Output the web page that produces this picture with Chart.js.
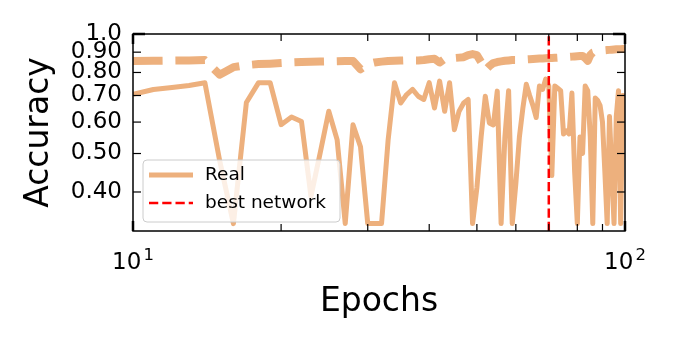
<!DOCTYPE html>
<html>
<head>
<meta charset="utf-8">
<script src="https://cdn.jsdelivr.net/npm/chart.js@4.4.0/dist/chart.umd.min.js"></script>
<style>
  html, body { margin: 0; padding: 0; background: #fff; }
</style>
</head>
<body>
<canvas id="myChart" width="675" height="350"></canvas>
<script>
// x values (epochs)
const epochs = [10, 11, 12, 13, 14, 15, 16, 17, 18, 19,
  20, 21, 22, 23, 24, 25, 26, 27, 28, 29,
  30, 31, 32, 33, 34, 35, 36, 37, 38, 39,
  40, 41, 42, 43, 44, 45, 46, 47, 48, 49,
  50, 51, 52, 53, 54, 55, 56, 57, 58, 59,
  60, 61, 62, 63, 64, 65, 66, 67, 68, 69,
  70, 71, 72, 73, 74, 75, 76, 77, 78, 79,
  80, 81, 82, 83, 84, 85, 86, 87, 88, 89,
  90, 91, 92, 93, 94, 95, 96, 97, 98, 99, 100];

// accuracy of the real network (solid line)
const realAcc = [0.705, 0.725, 0.733, 0.742, 0.754, 0.48, 0.333, 0.672, 0.754, 0.754,
  0.591, 0.618, 0.602, 0.39, 0.50, 0.639, 0.541, 0.333, 0.591, 0.52,
  0.333, 0.333, 0.333, 0.54, 0.754, 0.67, 0.704, 0.725, 0.697, 0.684,
  0.754, 0.651, 0.761, 0.639, 0.754, 0.574, 0.639, 0.67, 0.684, 0.333,
  0.41, 0.55, 0.697, 0.597, 0.59, 0.718, 0.333, 0.55, 0.72, 0.333,
  0.42, 0.55, 0.65, 0.747, 0.70, 0.66, 0.616, 0.74, 0.725, 0.77,
  0.74, 0.44, 0.74, 0.73, 0.72, 0.56, 0.57, 0.56, 0.71, 0.45,
  0.333, 0.55, 0.50, 0.74, 0.72, 0.55, 0.333, 0.69, 0.68, 0.66,
  0.60, 0.45, 0.333, 0.62, 0.45, 0.333, 0.62, 0.72, 0.333, 0.70, 0.60];

// dashed curve (no legend entry)
const dashedAcc = [0.855, 0.856, 0.857, 0.858, 0.86, 0.79, 0.825, 0.835, 0.84, 0.842,
  0.845, 0.848, 0.85, 0.851, 0.852, 0.853, 0.854, 0.855, 0.855, 0.815,
  0.84, 0.848, 0.852, 0.855, 0.856, 0.857, 0.858, 0.858, 0.858, 0.86,
  0.864, 0.866, 0.848, 0.866, 0.868, 0.87, 0.872, 0.874, 0.885, 0.89,
  0.885, 0.85, 0.81, 0.83, 0.845, 0.85, 0.853, 0.856, 0.858, 0.86,
  0.86, 0.861, 0.862, 0.863, 0.864, 0.865, 0.866, 0.867, 0.868, 0.869,
  0.87, 0.87, 0.871, 0.872, 0.873, 0.874, 0.875, 0.876, 0.877, 0.878,
  0.879, 0.88, 0.88, 0.87, 0.856, 0.885, 0.898, 0.902, 0.905, 0.907,
  0.909, 0.91, 0.911, 0.912, 0.913, 0.914, 0.915, 0.915, 0.916, 0.917, 0.918];

const bestEpoch = 70;

const yTicks = [0.4, 0.5, 0.6, 0.7, 0.8, 0.9, 1.0];
const yTickLabels = ['0.40', '0.50', '0.60', '0.70', '0.80', '0.90', '1.0'];
const xTicks = [10, 100];
const xTickBase = ['10', '10'];
const xTickExp = ['1', '2'];
const xMinorTicks = [20, 30, 40, 50, 60, 70, 80, 90];

const orange = 'rgb(237, 176, 125)';
const fontName = 'DejaVu Sans';

// red line, legend box, frame, inward ticks and 10^n labels (matplotlib look)
const decor = {
  id: 'decor',
  afterDatasetsDraw(chart) {
    const {ctx, chartArea: a, scales: {x, y}} = chart;

    // best network marker
    const bx = x.getPixelForValue(bestEpoch);
    ctx.save();
    ctx.strokeStyle = 'red';
    ctx.lineWidth = 2.5;
    ctx.setLineDash([9.25, 4]);
    ctx.beginPath();
    ctx.moveTo(bx, a.bottom);
    ctx.lineTo(bx, a.top);
    ctx.stroke();
    ctx.restore();

    // legend
    const lx = a.left + 10, ly = 160, lw = 197, lh = 62, r = 4;
    ctx.save();
    ctx.beginPath();
    ctx.moveTo(lx + r, ly);
    ctx.lineTo(lx + lw - r, ly);
    ctx.quadraticCurveTo(lx + lw, ly, lx + lw, ly + r);
    ctx.lineTo(lx + lw, ly + lh - r);
    ctx.quadraticCurveTo(lx + lw, ly + lh, lx + lw - r, ly + lh);
    ctx.lineTo(lx + r, ly + lh);
    ctx.quadraticCurveTo(lx, ly + lh, lx, ly + lh - r);
    ctx.lineTo(lx, ly + r);
    ctx.quadraticCurveTo(lx, ly, lx + r, ly);
    ctx.closePath();
    ctx.fillStyle = 'rgba(255, 255, 255, 0.8)';
    ctx.fill();
    ctx.strokeStyle = '#cccccc';
    ctx.lineWidth = 1;
    ctx.stroke();

    ctx.strokeStyle = orange;
    ctx.lineWidth = 5;
    ctx.beginPath();
    ctx.moveTo(lx + 6, ly + 15);
    ctx.lineTo(lx + 50, ly + 15);
    ctx.stroke();

    ctx.strokeStyle = 'red';
    ctx.lineWidth = 2.5;
    ctx.setLineDash([9.25, 4]);
    ctx.beginPath();
    ctx.moveTo(lx + 6, ly + 43);
    ctx.lineTo(lx + 50, ly + 43);
    ctx.stroke();
    ctx.setLineDash([]);

    ctx.fillStyle = '#000';
    ctx.font = '18.5px "' + fontName + '"';
    ctx.textBaseline = 'middle';
    ctx.fillText('Real', lx + 62, ly + 15);
    ctx.fillText('best network', lx + 62, ly + 43);

    // x tick labels as 10 with a raised exponent
    ctx.textBaseline = 'alphabetic';
    xTicks.forEach((v, i) => {
      const px = x.getPixelForValue(v);
      ctx.font = '23px "' + fontName + '"';
      const wb = ctx.measureText(xTickBase[i]).width;
      ctx.font = '16.5px "' + fontName + '"';
      const we = ctx.measureText(xTickExp[i]).width;
      const x0 = px - (wb + 2 + we) / 2;
      ctx.font = '23px "' + fontName + '"';
      ctx.fillText(xTickBase[i], x0, a.bottom + 38);
      ctx.font = '16.5px "' + fontName + '"';
      ctx.fillText(xTickExp[i], x0 + wb + 2, a.bottom + 29);
    });

    // frame
    ctx.strokeStyle = '#000';
    ctx.lineWidth = 1.5;
    ctx.strokeRect(a.left, a.top, a.right - a.left, a.bottom - a.top);

    // inward ticks
    const tick = (x1, y1, x2, y2, w) => {
      ctx.lineWidth = w;
      ctx.beginPath();
      ctx.moveTo(x1, y1);
      ctx.lineTo(x2, y2);
      ctx.stroke();
    };
    xTicks.forEach(v => {
      const px = x.getPixelForValue(v);
      tick(px, a.bottom, px, a.bottom - 10, 2.5);
      tick(px, a.top, px, a.top + 10, 2.5);
    });
    xMinorTicks.forEach(v => {
      const px = x.getPixelForValue(v);
      tick(px, a.bottom, px, a.bottom - 7, 1.2);
      tick(px, a.top, px, a.top + 7, 1.2);
    });
    yTicks.forEach(v => {
      const py = y.getPixelForValue(v);
      const major = v === 1.0;
      const len = major ? 12 : 8;
      const w = major ? 2.5 : 1.2;
      tick(a.left, py, a.left + len, py, w);
      tick(a.right, py, a.right - len, py, w);
    });
    ctx.restore();
  }
};

const ctx = document.getElementById('myChart').getContext('2d');
new Chart(ctx, {
  type: 'line',
  data: {
    datasets: [
      {
        label: 'Real',
        data: epochs.map((e, i) => ({x: e, y: realAcc[i]})),
        borderColor: orange,
        borderWidth: 5,
        borderJoinStyle: 'round',
        pointRadius: 0,
        tension: 0,
        fill: false,
        clip: 0
      },
      {
        label: 'dashed',
        data: epochs.map((e, i) => ({x: e, y: dashedAcc[i]})),
        borderColor: orange,
        borderWidth: 8,
        borderDash: [29.6, 12.8],
        borderCapStyle: 'butt',
        borderJoinStyle: 'round',
        pointRadius: 0,
        tension: 0,
        fill: false,
        clip: 0
      }
    ]
  },
  options: {
    responsive: false,
    animation: false,
    layout: { padding: { top: 34, right: 50, left: 0, bottom: 0 } },
    plugins: {
      legend: { display: false },
      tooltip: { enabled: false }
    },
    scales: {
      x: {
        type: 'logarithmic',
        min: 10,
        max: 100,
        grid: { display: false, drawTicks: false },
        border: { display: false },
        afterBuildTicks: s => { s.ticks = xTicks.map(v => ({value: v})); },
        afterFit: s => { s.height = 119; },
        ticks: { display: false },
        title: {
          display: true,
          text: 'Epochs',
          color: '#000',
          font: { family: fontName, size: 33 },
          padding: { top: 0, bottom: 27.5 }
        }
      },
      y: {
        type: 'logarithmic',
        min: 0.319,
        max: 1.0,
        grid: { display: false, drawTicks: false },
        border: { display: false },
        afterBuildTicks: s => { s.ticks = yTicks.map(v => ({value: v})); },
        afterFit: s => { s.width = 133; },
        ticks: {
          autoSkip: false,
          padding: 11,
          color: '#000',
          font: { family: fontName, size: 23 },
          callback: (v, i) => yTickLabels[i]
        },
        title: {
          display: true,
          text: 'Accuracy',
          color: '#000',
          font: { family: fontName, size: 33 },
          padding: { top: 20, bottom: 0 }
        }
      }
    }
  },
  plugins: [decor]
});
</script>
</body>
</html>
